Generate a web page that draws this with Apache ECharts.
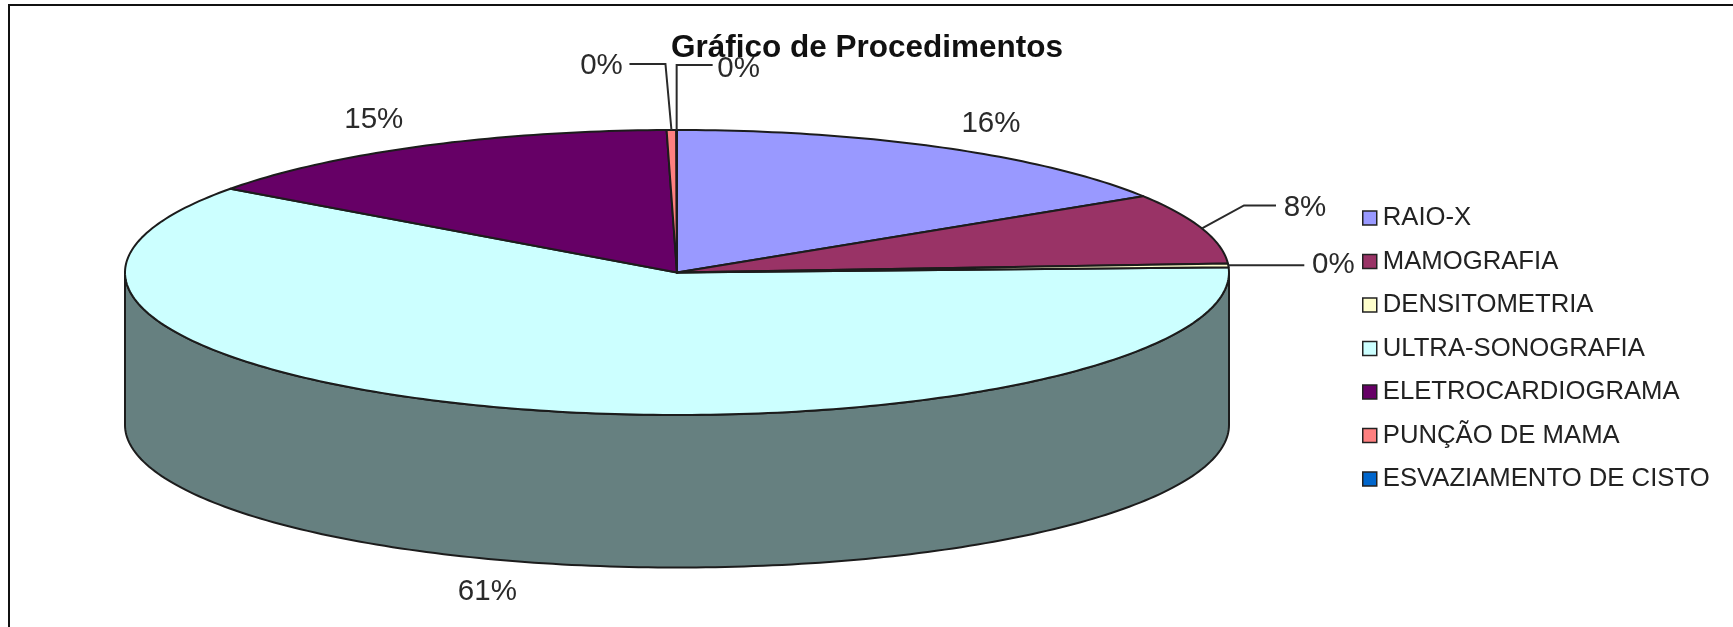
<!DOCTYPE html>
<html><head><meta charset="utf-8">
<style>html,body{margin:0;padding:0;background:#fff}#c{width:1733px;height:627px}</style>
<script src="https://cdn.jsdelivr.net/npm/echarts@6/dist/echarts.min.js"></script>
</head><body><div id="c"></div>
<script>
const title = 'Gráfico de Procedimentos';
const categories = ['RAIO-X','MAMOGRAFIA','DENSITOMETRIA','ULTRA-SONOGRAFIA','ELETROCARDIOGRAMA','PUNÇÃO DE MAMA','ESVAZIAMENTO DE CISTO'];
const values = [16, 8, 0.4, 60.6, 14.7, 0.28, 0.02];
const colors = ['#9999FF','#993366','#FFFFCC','#CCFFFF','#660066','#FF8080','#0066CC'];
const sideColors = ['#4D4D80','#4D1A33','#808066','#668080','#330033','#804040','#003366'];

// pie layout (flattened 3D pie)
const cx = 677, cy = 272.5, rx = 552, ry = 142.5, depth = 152.5;
const fontFamily = '"Liberation Sans", Arial, sans-serif';
// label placement relative to the slice's rim point: [text dx, dy, leader points relative to rim]
const labelLayout = [
  {text:[48,-24]},
  {text:[103,-21], leader:[[42,-23],[74,-23]]},
  {text:[105,0], leader:[[76,0]]},
  {text:[-29,183]},
  {text:[-48,-26]},
  {text:[-70,-64], leader:[[-6,-66],[-42,-66]]},
  {text:[62,-61], leader:[[0,-65],[36,-65]]}
];
const total = values.reduce((a,b)=>a+b,0);
const starts = values.map((_,i)=>values.slice(0,i).reduce((a,b)=>a+b,0)/total*Math.PI*2);
const ends = values.map((_,i)=>values.slice(0,i+1).reduce((a,b)=>a+b,0)/total*Math.PI*2);
const rim = (a,dy=0)=>[cx+rx*Math.sin(a), cy-ry*Math.cos(a)+dy];
const arcPts = (a0,a1,dy=0)=>{
  const n = Math.max(2,Math.ceil((a1-a0)/(Math.PI/180)));
  const p=[]; for(let k=0;k<=n;k++) p.push(rim(a0+(a1-a0)*k/n,dy));
  return p;
};
const edgeStyle = {stroke:'#1c1c1c',lineWidth:2,lineJoin:'round'};

function renderSlice(i){
  return function(){
    const a0=starts[i], a1=ends[i], mid=(a0+a1)/2, kids=[];
    // front wall: only the part of the slice between 90deg and 270deg from the top shows
    const w0=Math.max(a0,Math.PI/2), w1=Math.min(a1,Math.PI*1.5);
    if(w1>w0){
      const top=arcPts(w0,w1), bot=arcPts(w0,w1,depth).reverse();
      kids.push({type:'polygon',shape:{points:top.concat(bot)},style:{fill:sideColors[i],...edgeStyle}});
    }
    kids.push({type:'polygon',shape:{points:[[cx,cy]].concat(arcPts(a0,a1))},style:{fill:colors[i],...edgeStyle}});
    const r=rim(mid), L=labelLayout[i];
    if(L.leader){
      kids.push({type:'polyline',shape:{points:[r].concat(L.leader.map(p=>[r[0]+p[0],r[1]+p[1]]))},
        style:{fill:null,stroke:'#2a2a2a',lineWidth:2},z2:5});
    }
    kids.push({type:'text',x:r[0]+L.text[0],y:r[1]+L.text[1],z2:10,
      style:{text:Math.round(values[i]/total*100)+'%',fill:'#2a2a2a',font:'29.5px '+fontFamily,align:'center',verticalAlign:'middle'}});
    return {type:'group',children:kids};
  };
}

const chart = echarts.init(document.getElementById('c'),null,{renderer:'canvas'});
chart.setOption({
  animation:false,
  backgroundColor:'#fff',
  title:{text:title,left:666,top:27,textStyle:{fontFamily,fontWeight:'bold',fontSize:31.5,color:'#111'},z:20},
  legend:{
    orient:'vertical',left:1357,top:198,itemWidth:14,itemHeight:14,itemGap:13.5,icon:'rect',
    data:categories,selectedMode:false,
    itemStyle:{borderColor:'#222',borderWidth:1.5},
    textStyle:{fontFamily,fontSize:25.7,color:'#222',lineHeight:30,padding:[0,0,0,1]}
  },
  graphic:[{type:'rect',silent:true,z:-1,shape:{x:9,y:5,width:1800,height:700},style:{fill:'#fff',stroke:'#111',lineWidth:2}}],
  series:categories.map((name,i)=>({
    type:'custom',name,coordinateSystem:'none',silent:true,
    itemStyle:{color:colors[i]},
    data:[values[i]],
    renderItem:renderSlice(i),
    z:i===3?1:2
  }))
});
</script></body></html>
